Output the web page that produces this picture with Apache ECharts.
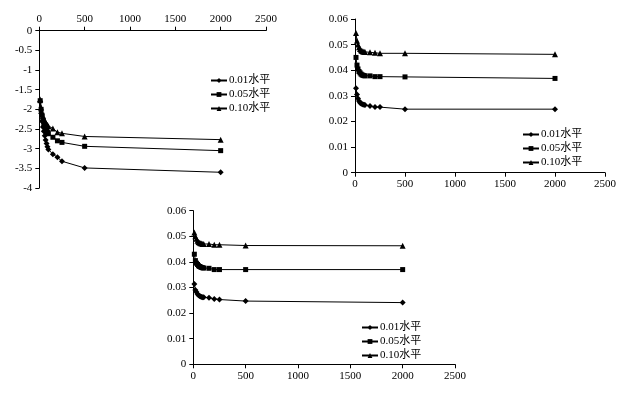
<!DOCTYPE html>
<html><head><meta charset="utf-8">
<script src="https://cdn.jsdelivr.net/npm/echarts@6/dist/echarts.min.js"></script>
<style>html,body{margin:0;padding:0;background:#fff}#c{width:630px;height:395px}</style>
</head><body><div id="c"></div>
<script>
const xs = [10,20,30,40,50,60,70,80,90,100,150,200,250,500,2000];
const names = ['0.01水平','0.05水平','0.10水平'];
const xTicks = [0,500,1000,1500,2000,2500];
// chart A (top-left)
const a001 = [-1.80,-2.10,-2.30,-2.45,-2.56,-2.67,-2.78,-2.87,-2.95,-3.02,-3.14,-3.22,-3.32,-3.49,-3.60];
const a005 = [-1.78,-2.00,-2.15,-2.27,-2.36,-2.43,-2.50,-2.55,-2.58,-2.62,-2.71,-2.80,-2.84,-2.94,-3.05];
const a010 = [-1.75,-1.95,-2.08,-2.17,-2.24,-2.29,-2.33,-2.37,-2.40,-2.43,-2.49,-2.58,-2.61,-2.69,-2.77];
// chart B (top-right)
const b001 = [0.0330,0.0305,0.0290,0.0280,0.0273,0.0270,0.0268,0.0266,0.0265,0.0264,0.0260,0.0256,0.0256,0.0248,0.0248];
const b005 = [0.0450,0.0420,0.0405,0.0395,0.0390,0.0385,0.0382,0.0380,0.0379,0.0378,0.0378,0.0375,0.0375,0.0374,0.0368];
const b010 = [0.0545,0.0515,0.0500,0.0490,0.0483,0.0478,0.0475,0.0473,0.0472,0.0471,0.0470,0.0468,0.0466,0.0466,0.0462];
// chart C (bottom)
const c001 = [0.0314,0.0290,0.0282,0.0275,0.0270,0.0267,0.0265,0.0263,0.0262,0.0262,0.0260,0.0255,0.0253,0.0247,0.0241];
const c005 = [0.0430,0.0405,0.0395,0.0390,0.0385,0.0382,0.0380,0.0378,0.0377,0.0376,0.0375,0.0370,0.0370,0.0370,0.0370];
const c010 = [0.0515,0.0500,0.0490,0.0483,0.0478,0.0475,0.0473,0.0472,0.0470,0.0470,0.0470,0.0467,0.0467,0.0464,0.0463];

const FONT = "'Liberation Serif','Noto Sans CJK SC',serif";
const symbols = ['diamond','rect','triangle'];
const symSizes = [6,5,6];
const axisLine = {show:true, onZero:false, lineStyle:{color:'#000', width:1}};
const axisTick = {show:true, inside:false, length:4, lineStyle:{color:'#000'}};
const label = {color:'#000', fontFamily:FONT, fontSize:11};

function xAx(gi, pos){
  return {type:'value', gridIndex:gi, position:pos, min:xTicks[0], max:xTicks[xTicks.length-1], interval:500,
    axisLine, axisTick, splitLine:{show:false},
    axisLabel:Object.assign({margin:6, formatter:v=>String(v)}, label)};
}
function yAx(gi, min, max, interval, fmt){
  return {type:'value', gridIndex:gi, min, max, interval,
    axisLine, axisTick, splitLine:{show:false},
    axisLabel:Object.assign({margin:7, formatter:fmt}, label)};
}
function mk(gi, arrs){
  return arrs.map((arr,i)=>({
    type:'line', name:names[i], xAxisIndex:gi, yAxisIndex:gi,
    data: xs.map((x,k)=>[x, arr[k]]),
    symbol:symbols[i], symbolSize:symSizes[i], showSymbol:true,
    lineStyle:{color:'#000', width:1}, itemStyle:{color:'#000'},
    animation:false
  }));
}
function leg(left, top){
  return {orient:'vertical', left, top, itemGap:3, itemWidth:16, itemHeight:6,
    data:names, textStyle:{color:'#000', fontFamily:FONT, fontSize:11, padding:[0,0,0,-3]},
    selectedMode:false};
}
const chart = echarts.init(document.getElementById('c'));
chart.setOption({
  backgroundColor:'#fff',
  animation:false,
  grid:[
    {left:39.3, top:30.7, width:226.7, height:157.3},
    {left:355, top:19, width:250, height:153.7},
    {left:193.3, top:210.7, width:261.7, height:153.6}
  ],
  xAxis:[xAx(0,'top'), xAx(1,'bottom'), xAx(2,'bottom')],
  yAxis:[
    yAx(0,-4,0,0.5, v=>String(v)),
    yAx(1,0,0.06,0.01, v=>v===0?'0':v.toFixed(2)),
    yAx(2,0,0.06,0.01, v=>v===0?'0':v.toFixed(2))
  ],
  legend:[leg(205,70), leg(517,124), leg(356,317)],
  series:[].concat(mk(0,[a001,a005,a010]), mk(1,[b001,b005,b010]), mk(2,[c001,c005,c010]))
});
</script></body></html>
